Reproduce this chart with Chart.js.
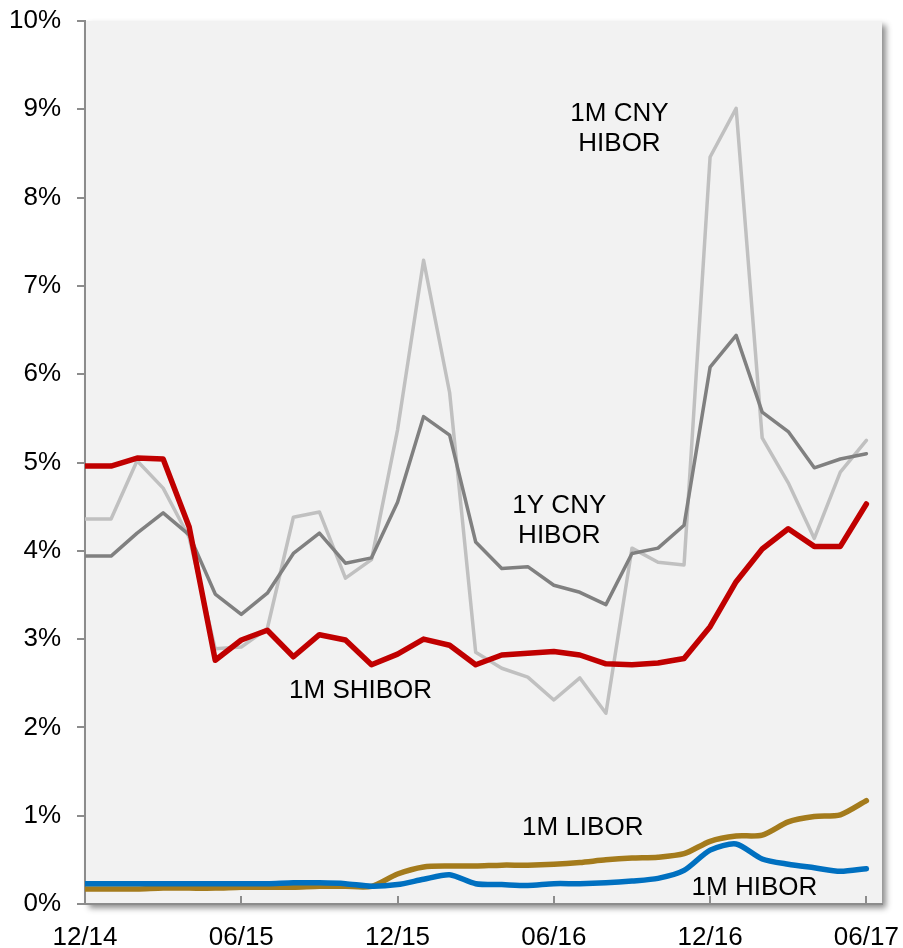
<!DOCTYPE html>
<html>
<head>
<meta charset="utf-8">
<title>Interest rates</title>
<script src="https://cdn.jsdelivr.net/npm/chart.js@4.4.1/dist/chart.umd.min.js"></script>
<style>
  html, body { margin: 0; padding: 0; background: #ffffff; }
  #wrap { width: 903px; height: 948px; }
</style>
</head>
<body>
<div id="wrap"><canvas id="ratesChart" width="903" height="948"></canvas></div>
<script>
// Monthly observations, 12/14 through 06/17
const months = ['12/14', '01/15', '02/15', '03/15', '04/15', '05/15', '06/15', '07/15', '08/15', '09/15', '10/15', '11/15',
    '12/15', '01/16', '02/16', '03/16', '04/16', '05/16', '06/16', '07/16', '08/16', '09/16', '10/16', '11/16',
    '12/16', '01/17', '02/17', '03/17', '04/17', '05/17', '06/17'];
const tickLabels = ['12/14', '06/15', '12/15', '06/16', '12/16', '06/17'];
const yTicks = [0, 1, 2, 3, 4, 5, 6, 7, 8, 9, 10];

// Rates in percent
const shibor1m = [4.96, 4.96, 5.05, 5.04, 4.27, 2.76, 2.99, 3.10, 2.80, 3.05, 2.99, 2.71, 2.83, 3.00, 2.93, 2.71,
    2.82, 2.84, 2.86, 2.82, 2.72, 2.71, 2.73, 2.78, 3.14, 3.65, 4.02, 4.25, 4.05, 4.05, 4.53];
const cnyHibor1m = [4.36, 4.36, 5.02, 4.71, 4.15, 2.89, 2.91, 3.12, 4.38, 4.44, 3.69, 3.90, 5.37, 7.29, 5.79, 2.85,
    2.67, 2.57, 2.31, 2.56, 2.16, 4.03, 3.87, 3.84, 8.46, 9.01, 5.28, 4.77, 4.14, 4.89, 5.25];
const cnyHibor1y = [3.94, 3.94, 4.20, 4.43, 4.18, 3.51, 3.28, 3.52, 3.97, 4.20, 3.86, 3.92, 4.55, 5.52, 5.31, 4.10,
    3.80, 3.82, 3.61, 3.53, 3.39, 3.97, 4.03, 4.29, 6.08, 6.44, 5.57, 5.35, 4.94, 5.04, 5.10];
const libor1m = [0.17, 0.17, 0.17, 0.18, 0.18, 0.18, 0.19, 0.19, 0.19, 0.20, 0.20, 0.20, 0.34, 0.42, 0.43, 0.43,
    0.44, 0.44, 0.45, 0.47, 0.50, 0.52, 0.53, 0.57, 0.71, 0.77, 0.78, 0.93, 0.99, 1.01, 1.17];
const hibor1m = [0.23, 0.23, 0.23, 0.23, 0.23, 0.23, 0.23, 0.23, 0.24, 0.24, 0.23, 0.20, 0.22, 0.28, 0.33, 0.23,
    0.22, 0.21, 0.23, 0.23, 0.24, 0.26, 0.29, 0.38, 0.61, 0.68, 0.51, 0.45, 0.41, 0.37, 0.40];

const FONT = "'Liberation Sans', Arial, sans-serif";
const AXIS_GRAY = '#8c8c8c';

const toPoints = values => values.map((v, i) => ({ x: i, y: v }));

// Series names written next to the lines, anchored in data units (month index, percent)
const seriesLabels = [
    { lines: ['1M CNY', 'HIBOR'], x: 20.52, y: 8.87 },
    { lines: ['1Y CNY', 'HIBOR'], x: 18.21, y: 4.43 },
    { lines: ['1M SHIBOR'], x: 10.58, y: 2.33 },
    { lines: ['1M LIBOR'], x: 19.11, y: 0.78 },
    { lines: ['1M HIBOR'], x: 25.70, y: 0.10 }
];

// Plot background with a soft drop shadow
const plotBackground = {
    id: 'plotBackground',
    beforeDraw(chart) {
        const { ctx, chartArea: a } = chart;
        ctx.save();
        ctx.shadowColor = 'rgba(0, 0, 0, 0.45)';
        ctx.shadowBlur = 6;
        ctx.shadowOffsetX = 4;
        ctx.shadowOffsetY = 4;
        ctx.fillStyle = '#f2f2f2';
        ctx.fillRect(a.left, a.top, a.right - a.left, a.bottom - a.top);
        ctx.restore();
    }
};

// Inward tick marks on the date axis and the series names
const annotations = {
    id: 'annotations',
    afterDraw(chart) {
        const { ctx, chartArea: a, scales } = chart;
        ctx.save();
        ctx.strokeStyle = AXIS_GRAY;
        ctx.lineWidth = 2;
        scales.x.ticks.forEach(t => {
            const px = Math.round(scales.x.getPixelForValue(t.value));
            ctx.beginPath();
            ctx.moveTo(px, a.bottom);
            ctx.lineTo(px, a.bottom - 8);
            ctx.stroke();
        });

        ctx.fillStyle = '#000000';
        ctx.font = '26px ' + FONT;
        ctx.textAlign = 'center';
        ctx.textBaseline = 'alphabetic';
        seriesLabels.forEach(lbl => {
            const px = scales.x.getPixelForValue(lbl.x);
            const py = scales.y.getPixelForValue(lbl.y);
            lbl.lines.forEach((line, i) => ctx.fillText(line, px, py + i * 30));
        });
        ctx.restore();
    }
};

const ctx = document.getElementById('ratesChart').getContext('2d');
const ratesChart = new Chart(ctx, {
    type: 'line',
    data: {
        labels: months,
        datasets: [
            { label: '1M SHIBOR', data: toPoints(shibor1m), borderColor: '#c00000', borderWidth: 5.5, tension: 0 },
            { label: '1M HIBOR', data: toPoints(hibor1m), borderColor: '#0070c0', borderWidth: 5.5, tension: 0.25 },
            { label: '1M LIBOR', data: toPoints(libor1m), borderColor: '#a47b1c', borderWidth: 5.5, tension: 0.25 },
            { label: '1Y CNY HIBOR', data: toPoints(cnyHibor1y), borderColor: '#808080', borderWidth: 3.5, tension: 0 },
            { label: '1M CNY HIBOR', data: toPoints(cnyHibor1m), borderColor: '#c0c0c0', borderWidth: 3.5, tension: 0 }
        ]
    },
    options: {
        responsive: false,
        animation: false,
        devicePixelRatio: 1,
        layout: { padding: { top: 21, right: 21, left: 0, bottom: 0 } },
        elements: {
            point: { radius: 0, hoverRadius: 0 },
            line: { borderJoinStyle: 'round', borderCapStyle: 'round', fill: false }
        },
        plugins: {
            legend: { display: false },
            tooltip: { enabled: false }
        },
        scales: {
            x: {
                type: 'linear',
                min: 0,
                max: 30.6,
                afterBuildTicks: scale => {
                    scale.ticks = tickLabels.map((_, i) => ({ value: i * 6 }));
                },
                afterFit: scale => {
                    scale.height = 44;
                    scale.paddingLeft = 0;
                    scale.paddingRight = 0;
                },
                grid: { display: false, drawTicks: false },
                border: { display: true, color: AXIS_GRAY, width: 2 },
                ticks: {
                    autoSkip: false,
                    maxRotation: 0,
                    padding: 18,
                    color: '#000000',
                    font: { family: FONT, size: 26 },
                    callback: value => tickLabels[value / 6]
                }
            },
            y: {
                min: 0,
                max: 10,
                afterBuildTicks: scale => {
                    scale.ticks = yTicks.map(v => ({ value: v }));
                },
                afterFit: scale => {
                    scale.width = 85;
                    scale.paddingTop = 0;
                    scale.paddingBottom = 0;
                },
                grid: {
                    drawOnChartArea: false,
                    drawTicks: true,
                    tickLength: 8,
                    color: AXIS_GRAY,
                    lineWidth: 2
                },
                border: { display: true, color: AXIS_GRAY, width: 2 },
                ticks: {
                    padding: 16,
                    color: '#000000',
                    font: { family: FONT, size: 26 },
                    callback: value => value + '%'
                }
            }
        }
    },
    plugins: [plotBackground, annotations]
});
</script>
</body>
</html>
